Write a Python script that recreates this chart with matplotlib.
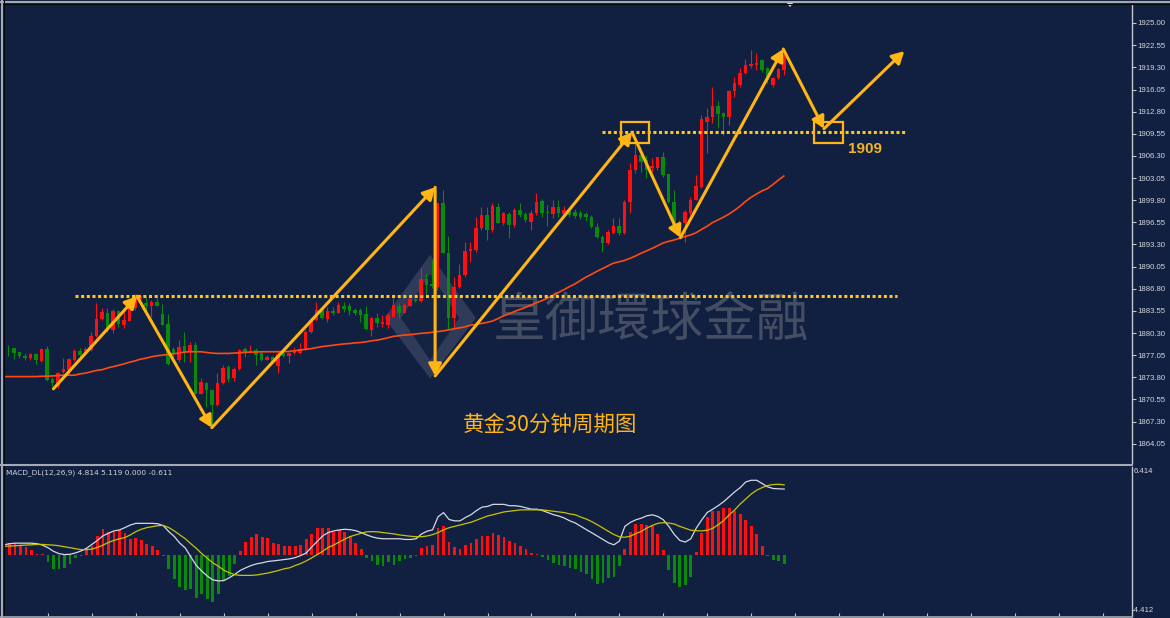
import numpy as np
import matplotlib
matplotlib.use("Agg")
import matplotlib.pyplot as plt
from matplotlib.patches import Rectangle, Polygon
from matplotlib.lines import Line2D

# ============================================================
# 数据 (从图上读取的 30 分钟 K 线, 价格)
# ============================================================
opens = [
    1876.5, 1877.7, 1878.05, 1877.5, 1876.9, 1876.7, 1877.2, 1876.2, 1877.95, 1873.5,
    1872.5, 1874.6, 1874.9, 1876.3, 1877.7, 1877.2, 1877.8, 1879.8, 1882.3, 1883.3,
    1880.7, 1883.5, 1881.5, 1882.1, 1883.9, 1885.1, 1884.7, 1884.2, 1884.8, 1883.1,
    1881.6, 1877.9, 1876.3, 1878.4, 1877.55, 1878.5, 1871.4, 1873.0, 1872.0, 1869.7,
    1872.9, 1875.3, 1873.65, 1875.0, 1877.9, 1877.55, 1877.8, 1877.3, 1876.4, 1876.8,
    1875.5, 1877.3, 1876.9, 1877.3, 1877.3, 1877.9, 1880.5, 1882.2, 1883.7, 1882.3,
    1883.6, 1883.3, 1884.3, 1884.3, 1883.7, 1883.7, 1883.1, 1880.7, 1882.45, 1881.6,
    1881.5, 1882.7, 1884.3, 1883.3, 1884.3, 1885.25, 1885.0, 1888.3, 1887.5, 1887.1,
    1899.35, 1892.1, 1882.45, 1887.1, 1888.8, 1892.4, 1892.5, 1895.7, 1897.6, 1895.4,
    1898.85, 1896.5, 1897.75, 1896.2, 1898.3, 1897.75, 1896.6, 1897.9, 1899.7, 1898.1,
    1897.8, 1898.75, 1897.8, 1898.2, 1898.05, 1897.9, 1897.75, 1897.4, 1895.9, 1894.45,
    1893.55, 1895.0, 1896.0, 1894.95, 1899.6, 1904.2, 1906.4, 1905.7, 1904.5, 1904.5,
    1906.1, 1903.6, 1899.6, 1896.1, 1896.4, 1897.9, 1899.9, 1901.8, 1911.3, 1911.95,
    1913.65, 1912.6, 1912.05, 1915.9, 1916.7, 1918.5, 1919.5, 1919.65, 1920.4, 1919.2,
    1916.7, 1917.7, 1918.9,
]
highs = [
    1878.4, 1878.5, 1878.1, 1877.55, 1877.4, 1877.3, 1877.3, 1878.05, 1878.4, 1873.9,
    1874.6, 1876.6, 1876.7, 1877.95, 1878.05, 1878.3, 1880.5, 1884.7, 1883.9, 1884.0,
    1883.8, 1883.7, 1883.4, 1884.2, 1886.1, 1886.0, 1885.6, 1885.15, 1885.4, 1884.5,
    1883.1, 1878.3, 1879.3, 1880.5, 1879.0, 1879.0, 1873.65, 1873.15, 1872.1, 1874.4,
    1875.6, 1875.6, 1875.35, 1877.9, 1878.2, 1878.5, 1878.1, 1877.55, 1877.1, 1876.9,
    1877.8, 1877.8, 1877.55, 1878.2, 1878.8, 1880.7, 1882.45, 1884.9, 1883.9, 1884.1,
    1884.1, 1884.9, 1884.9, 1884.7, 1883.9, 1883.9, 1884.2, 1882.6, 1883.3, 1882.9,
    1883.2, 1885.4, 1884.7, 1884.7, 1885.4, 1885.4, 1889.9, 1889.1, 1891.0, 1899.4,
    1901.3, 1894.55, 1888.55, 1890.5, 1893.7, 1893.7, 1897.4, 1898.85, 1898.85, 1899.35,
    1899.35, 1898.1, 1898.0, 1898.6, 1899.35, 1898.0, 1898.35, 1900.9, 1900.0, 1899.1,
    1899.8, 1899.8, 1899.0, 1898.8, 1898.5, 1898.3, 1898.1, 1897.6, 1896.45, 1894.7,
    1895.4, 1897.2, 1897.2, 1899.9, 1905.2, 1908.6, 1906.9, 1906.4, 1906.0, 1906.2,
    1906.9, 1903.6, 1901.3, 1896.9, 1898.35, 1900.3, 1903.5, 1912.3, 1913.3, 1916.5,
    1914.4, 1912.8, 1916.0, 1917.85, 1919.2, 1920.6, 1921.85, 1921.4, 1920.6, 1919.4,
    1917.9, 1919.2, 1921.4,
]
lows = [
    1876.2, 1876.9, 1876.5, 1876.6, 1876.3, 1876.3, 1875.7, 1876.1, 1873.3, 1872.5,
    1872.2, 1874.5, 1874.3, 1876.2, 1876.8, 1877.1, 1877.7, 1879.7, 1882.2, 1880.5,
    1880.3, 1881.2, 1881.0, 1882.0, 1883.7, 1884.9, 1883.4, 1882.7, 1884.2, 1881.5,
    1875.6, 1876.3, 1876.1, 1876.1, 1876.1, 1871.4, 1871.3, 1869.5, 1866.65, 1869.6,
    1872.8, 1873.15, 1873.3, 1874.9, 1876.8, 1877.3, 1875.6, 1876.2, 1876.3, 1875.95,
    1874.5, 1876.8, 1875.85, 1877.2, 1877.2, 1877.8, 1880.3, 1882.1, 1882.3, 1881.95,
    1882.9, 1883.2, 1883.4, 1882.9, 1882.9, 1881.95, 1880.7, 1879.8, 1881.2, 1881.2,
    1881.0, 1882.6, 1882.45, 1883.2, 1884.2, 1884.9, 1884.9, 1886.1, 1886.9, 1886.6,
    1892.0, 1880.7, 1881.0, 1886.9, 1888.55, 1890.7, 1892.25, 1895.4, 1893.95, 1895.2,
    1896.4, 1896.2, 1894.2, 1895.9, 1897.4, 1896.65, 1895.4, 1897.6, 1897.3, 1896.0,
    1897.2, 1897.3, 1897.4, 1897.3, 1897.2, 1897.0, 1896.8, 1895.7, 1894.25, 1892.25,
    1893.4, 1894.9, 1894.7, 1894.85, 1897.9, 1903.85, 1904.0, 1903.05, 1903.95, 1904.2,
    1903.25, 1899.35, 1895.65, 1894.7, 1893.7, 1897.6, 1899.8, 1901.55, 1906.7, 1911.1,
    1910.4, 1909.4, 1910.85, 1915.0, 1916.5, 1918.4, 1919.2, 1918.9, 1918.7, 1916.95,
    1916.5, 1917.55, 1918.2,
]
closes = [
    1878.1, 1877.6, 1877.4, 1876.9, 1876.7, 1877.2, 1876.3, 1877.95, 1873.4, 1872.9,
    1874.5, 1875.0, 1876.5, 1877.7, 1877.0, 1877.95, 1879.9, 1882.3, 1883.4, 1880.7,
    1883.5, 1881.6, 1882.2, 1884.0, 1885.4, 1885.7, 1884.2, 1884.8, 1884.3, 1881.5,
    1875.8, 1877.2, 1878.3, 1877.4, 1878.5, 1871.4, 1873.15, 1871.9, 1869.7, 1873.0,
    1875.2, 1873.6, 1875.0, 1877.8, 1877.55, 1877.7, 1877.1, 1876.3, 1876.8, 1876.1,
    1877.2, 1876.9, 1877.4, 1877.7, 1877.9, 1880.5, 1882.2, 1883.7, 1882.45, 1883.5,
    1883.3, 1884.4, 1883.8, 1883.6, 1883.3, 1882.9, 1880.9, 1882.45, 1881.7, 1881.95,
    1882.9, 1884.4, 1883.3, 1884.4, 1885.25, 1885.0, 1888.3, 1887.35, 1887.25, 1899.35,
    1892.1, 1882.45, 1887.1, 1888.8, 1892.4, 1892.6, 1895.7, 1897.6, 1895.4, 1898.95,
    1896.5, 1897.9, 1896.2, 1898.35, 1897.6, 1896.9, 1897.9, 1899.6, 1897.9, 1897.9,
    1898.75, 1897.9, 1898.35, 1897.6, 1897.5, 1897.4, 1897.3, 1895.9, 1894.45, 1893.55,
    1895.2, 1896.0, 1894.95, 1899.6, 1904.2, 1906.4, 1905.45, 1904.2, 1904.8, 1906.1,
    1903.5, 1899.6, 1895.9, 1896.5, 1898.0, 1899.9, 1901.9, 1911.7, 1912.05, 1913.65,
    1912.45, 1912.05, 1915.9, 1916.95, 1918.5, 1919.65, 1919.8, 1920.0, 1918.9, 1917.45,
    1917.7, 1919.0, 1921.1,
]
# 均线
ma_line = [
    1873.9, 1873.9, 1873.9, 1873.9, 1873.9, 1873.9, 1873.9, 1873.95, 1873.95, 1874.0,
    1874.05, 1874.1, 1874.1, 1874.1, 1874.3, 1874.4, 1874.6, 1874.8, 1874.9, 1875.15,
    1875.35, 1875.55, 1875.75, 1876.0, 1876.2, 1876.45, 1876.6, 1876.8, 1876.95, 1877.05,
    1877.15, 1877.25, 1877.35, 1877.5, 1877.55, 1877.55, 1877.55, 1877.45, 1877.35, 1877.3,
    1877.3, 1877.3, 1877.35, 1877.4, 1877.45, 1877.5, 1877.5, 1877.55, 1877.55, 1877.55,
    1877.55, 1877.55, 1877.6, 1877.7, 1877.8, 1877.9, 1878.0, 1878.15, 1878.3, 1878.4,
    1878.5, 1878.6, 1878.7, 1878.75, 1878.85, 1878.9, 1879.0, 1879.15, 1879.25, 1879.4,
    1879.6, 1879.8, 1879.9, 1880.0, 1880.05, 1880.15, 1880.25, 1880.3, 1880.4, 1880.5,
    1880.6, 1880.75, 1880.9, 1881.05, 1881.2, 1881.45, 1881.55, 1881.7, 1881.85, 1882.05,
    1882.4, 1882.8, 1883.1, 1883.45, 1883.75, 1884.05, 1884.4, 1884.75, 1885.05, 1885.4,
    1885.85, 1886.25, 1886.65, 1887.1, 1887.5, 1888.0, 1888.5, 1888.9, 1889.35, 1889.75,
    1890.15, 1890.55, 1890.75, 1890.95, 1891.25, 1891.6, 1892.0, 1892.35, 1892.7, 1893.1,
    1893.5, 1893.75, 1893.95, 1894.2, 1894.45, 1894.7, 1895.0, 1895.5, 1895.95, 1896.5,
    1896.9, 1897.3, 1897.75, 1898.3, 1898.9, 1899.6, 1900.2, 1900.7, 1901.15, 1901.5,
    1902.1, 1902.75, 1903.35,
]
# MACD_DL(12,26,9)
macd_hist = [
    0.80, 0.88, 0.88, 0.72, 0.60, 0.41, 0.12, 0.12, -0.50, -0.98,
    -1.03, -0.91, -0.62, -0.19, -0.07, 0.36, 0.69, 1.41, 1.89, 1.72,
    1.72, 1.84, 1.65, 1.20, 1.29, 1.08, 0.84, 0.65, 0.41, -0.03,
    -1.03, -1.74, -2.27, -2.53, -2.46, -3.13, -2.82, -3.18, -3.42, -2.82,
    -1.86, -1.51, -0.67, 0.29, 0.93, 1.36, 1.55, 1.31, 1.24, 0.88,
    0.84, 0.69, 0.69, 0.69, 0.76, 1.17, 1.55, 2.01, 2.01, 1.96,
    1.72, 1.84, 1.67, 1.41, 0.88, 0.45, -0.19, -0.43, -0.74, -0.79,
    -0.50, -0.74, -0.38, -0.30, -0.20, -0.05, 0.55, 0.70, 0.75, 2.00,
    2.10, 1.00, 0.60, 0.45, 0.75, 0.90, 1.20, 1.40, 1.40, 1.60,
    1.45, 1.30, 1.05, 0.90, 0.70, 0.45, 0.20, 0.10, -0.15, -0.35,
    -0.55, -0.70, -0.80, -0.90, -1.00, -1.20, -1.36, -1.72, -2.08, -2.01,
    -1.67, -1.60, -0.76, 0.48, 1.67, 2.29, 2.29, 2.22, 2.10, 1.51,
    0.36, -1.05, -2.01, -2.32, -2.15, -1.60, 0.24, 1.63, 2.77, 3.25,
    3.25, 3.47, 3.42, 3.25, 3.01, 2.58, 2.15, 1.58, 0.67, -0.03,
    -0.36, -0.41, -0.61,
]
macd_main = [
    0.76, 0.84, 0.88, 0.88, 0.88, 0.88, 0.84, 0.74, 0.55, 0.29,
    0.12, 0.05, 0.07, 0.17, 0.31, 0.50, 0.79, 1.08, 1.41, 1.60,
    1.77, 1.84, 2.01, 2.20, 2.32, 2.32, 2.32, 2.32, 2.29, 2.15,
    1.72, 1.36, 0.88, 0.53, -0.12, -0.74, -1.15, -1.51, -1.79, -1.86,
    -1.84, -1.63, -1.39, -1.10, -0.91, -0.74, -0.62, -0.55, -0.45, -0.41,
    -0.36, -0.31, -0.26, -0.17, -0.02, 0.17, 0.60, 1.00, 1.41, 1.65,
    1.77, 1.84, 1.89, 1.86, 1.79, 1.65, 1.48, 1.34, 1.24, 1.20,
    1.20, 1.20, 1.20, 1.15, 1.15, 1.20, 1.55, 1.75, 1.85, 2.80,
    3.10, 2.60, 2.50, 2.50, 2.75, 2.95, 3.25, 3.50, 3.55, 3.70,
    3.70, 3.70, 3.60, 3.60, 3.55, 3.45, 3.35, 3.35, 3.25, 3.10,
    2.95, 2.85, 2.70, 2.50, 2.34, 2.10, 1.86, 1.63, 1.39, 1.15,
    0.91, 0.76, 1.03, 2.10, 2.39, 2.58, 2.70, 2.87, 2.94, 2.82,
    2.58, 2.10, 1.51, 1.08, 0.96, 1.20, 1.98, 2.58, 3.11, 3.35,
    3.61, 3.90, 4.25, 4.61, 4.92, 5.33, 5.45, 5.45, 5.21, 4.97,
    4.85, 4.83, 4.81,
]
macd_signal = [
    0.65, 0.67, 0.69, 0.72, 0.74, 0.76, 0.79, 0.79, 0.76, 0.74,
    0.69, 0.62, 0.55, 0.48, 0.41, 0.41, 0.45, 0.57, 0.74, 0.93,
    1.08, 1.20, 1.29, 1.48, 1.72, 1.89, 2.01, 2.08, 2.15, 2.17,
    2.01, 1.77, 1.48, 1.20, 0.84, 0.50, 0.12, -0.22, -0.55, -0.79,
    -1.08, -1.27, -1.41, -1.46, -1.46, -1.46, -1.43, -1.36, -1.29, -1.20,
    -1.10, -0.98, -0.91, -0.74, -0.60, -0.41, -0.19, 0.05, 0.29, 0.57,
    0.74, 0.96, 1.17, 1.36, 1.48, 1.60, 1.70, 1.72, 1.70, 1.65,
    1.60, 1.55, 1.48, 1.43, 1.38, 1.35, 1.35, 1.40, 1.50, 1.65,
    1.85, 2.00, 2.10, 2.20, 2.30, 2.40, 2.55, 2.70, 2.85, 2.95,
    3.05, 3.15, 3.20, 3.25, 3.30, 3.30, 3.30, 3.30, 3.30, 3.25,
    3.20, 3.15, 3.10, 3.00, 2.94, 2.77, 2.63, 2.44, 2.22, 1.98,
    1.74, 1.51, 1.34, 1.31, 1.39, 1.58, 1.74, 1.98, 2.17, 2.32,
    2.37, 2.34, 2.27, 2.10, 1.96, 1.82, 1.79, 1.77, 1.82, 1.96,
    2.22, 2.53, 2.94, 3.30, 3.73, 4.09, 4.45, 4.73, 4.92, 5.07,
    5.14, 5.16, 5.12,
]
price_ticks = [1922.55, 1919.30, 1916.05, 1912.80, 1909.55, 1906.30, 1903.05, 1899.80,
               1896.55, 1893.30, 1890.05, 1886.80, 1883.55, 1880.30, 1877.05, 1873.80,
               1870.55, 1867.30, 1864.05]
top_label = "1925.00"
macd_label = "MACD_DL(12,26,9) 4.814 5.119 0.000 -0.611"
macd_range = (-4.412, 6.414)

# 画线标注 (K 线序号, 价格)
zigzag_x = [9.2, 24.4, 38.0, 78.6, 78.6, 114.4, 123.2, 141.9, 149.3, 163.9]
zigzag_y = [1872.1, 1885.7, 1866.4, 1901.7, 1874.0, 1909.8, 1894.3, 1922.0, 1910.3, 1921.7]
level_low, level_low_span = 1885.75, (13.1, 162.6)
level_high, level_high_span = 1909.8, (109.0, 164.0)
boxes = [(112.4, 117.5), (147.5, 152.8)]
box_prices = (1908.25, 1911.33)

# ============================================================
# 画图
# ============================================================
BG = '#111f40'
UP, DOWN = '#ff1010', '#0a8a0a'
GOLD = '#ffb514'
DOT = '#ffc61a'
NARROW = ['Liberation Sans Narrow', 'Liberation Sans', 'DejaVu Sans']
W, H = 1170, 618

fig = plt.figure(figsize=(W / 100, H / 100), dpi=100)
fig.patch.set_facecolor(BG)


def px_axes(left, top, right, bottom):
    return fig.add_axes([left / W, 1 - bottom / H, (right - left) / W, (bottom - top) / H])


ax = px_axes(4, 5, 1132, 463)
axm = px_axes(4, 467, 1132, 616)
XLIM = (0.22, 205.3)

for a in (ax, axm):
    a.set_facecolor(BG)
    a.set_xlim(*XLIM)
    for side in ('top', 'left', 'bottom'):
        a.spines[side].set_visible(False)
    a.spines['right'].set_color('#c4c8cc')
    a.spines['right'].set_linewidth(1.0)
    a.yaxis.tick_right()
    a.tick_params(axis='y', direction='out', length=3, width=0.8, color='#c4c8cc',
                  labelsize=5.6, labelcolor='#d4d6da', pad=1)

# --- K 线 ---
idx = np.arange(len(closes))
o, h, l, c = map(np.array, (opens, highs, lows, closes))
up = c >= o
cols = np.where(up, UP, DOWN)
ax.vlines(idx, l, h, colors=cols, lw=0.8, zorder=3)
body_lo = np.minimum(o, c)
body_h = np.maximum(np.abs(c - o), 0.12)
ax.bar(idx, body_h, bottom=body_lo, width=0.64, color=cols, lw=0, zorder=4)
ax.plot(idx, ma_line, color='#ff4a12', lw=1.2, zorder=5)

ax.set_ylim(1861.21, 1928.47)
ax.set_yticks(price_ticks + [1925.85])
ax.set_yticklabels(['%.2f' % v for v in price_ticks] + [top_label], family=NARROW)
ax.set_xticks([])

# --- 水印 (logo + 文字) ---
ax.text(117.8, 1882.2, '皇御環球金融', family=['Noto Sans CJK TC', 'DejaVu Sans'],
        fontsize=38, color='#565d6e', alpha=0.75, ha='center', va='center', zorder=1)
logo_outer = [(77.7, 1891.8), (86.0, 1882.5), (77.7, 1873.6), (69.4, 1882.5)]
logo_inner = [(77.7, 1889.0), (83.0, 1882.5), (77.7, 1876.3), (72.4, 1882.5)]
ax.add_patch(Polygon(logo_outer, closed=True, fc='#9aa0b0', ec='none', alpha=0.22, zorder=1))
ax.add_patch(Polygon(logo_inner, closed=True, fc=BG, ec='none', alpha=0.85, zorder=1))

# --- 标注 ---
ax.hlines(level_low, *level_low_span, colors=DOT, lw=2.2, linestyles=(0, (1, 0.85)), zorder=6)
ax.hlines(level_high, *level_high_span, colors=DOT, lw=2.2, linestyles=(0, (1, 0.85)), zorder=6)
for x0, x1 in boxes:
    ax.add_patch(Rectangle((x0, box_prices[0]), x1 - x0, box_prices[1] - box_prices[0],
                           fill=False, ec=GOLD, lw=1.6, zorder=7))
for k in range(len(zigzag_x) - 1):
    ax.annotate('', xy=(zigzag_x[k + 1], zigzag_y[k + 1]), xytext=(zigzag_x[k], zigzag_y[k]),
                arrowprops=dict(arrowstyle='-|>,head_length=0.55,head_width=0.3', color=GOLD,
                                lw=2.2, shrinkA=0, shrinkB=0, mutation_scale=13), zorder=8)
ax.text(153.7, 1907.3, '1909', fontsize=11, fontweight='bold', color='#f0b428',
        family=['Liberation Sans', 'DejaVu Sans'], ha='left', va='center', zorder=8)
ax.text(99.5, 1866.8, '黄金30分钟周期图', family=['Noto Sans CJK SC', 'DejaVu Sans'],
        fontsize=15.5, color='#ffb514', ha='center', va='center', zorder=8)

# --- MACD ---
mh = np.array(macd_hist)
axm.bar(idx, mh, width=0.5, color=np.where(mh >= 0, UP, DOWN), lw=0, zorder=3)
axm.plot(idx, macd_main, color='#d6d8e4', lw=0.9, zorder=4)
axm.plot(idx, macd_signal, color='#c8c400', lw=0.9, zorder=4)
axm.set_ylim(*macd_range)
axm.set_yticks([])
axm.set_xticks(np.arange(0, 206, 8))
axm.tick_params(axis='x', direction='in', length=2, color='#c4c8cc', labelbottom=False)
axm.text(0.002, 0.985, macd_label, transform=axm.transAxes, fontsize=5.3,
         color='#d4d6da', ha='left', va='top')
fig.text(1134 / W, 1 - 468 / H, '%.3f' % macd_range[1], fontsize=5.6, color='#d4d6da',
         ha='left', va='top', family=NARROW)
fig.text(1132 / W, 1 - 614 / H, '%.3f' % macd_range[0], fontsize=5.6, color='#d4d6da',
         ha='left', va='bottom', family=NARROW)

# --- 窗口边框 ---
frame = '#a4aab4'
fig.add_artist(Line2D([0, 1], [1 - 1.5 / H] * 2, color=frame, lw=1.5, transform=fig.transFigure))
fig.add_artist(Line2D([0, 1], [1 - 3.5 / H] * 2, color='#05080f', lw=0.8, transform=fig.transFigure))
fig.add_artist(Line2D([1.5 / W] * 2, [0, 1], color=frame, lw=1.5, transform=fig.transFigure))
fig.add_artist(Line2D([3.5 / W] * 2, [0, 1], color='#05080f', lw=0.8, transform=fig.transFigure))
fig.add_artist(Line2D([0, 1132 / W], [1 - 464.5 / H] * 2, color=frame, lw=1.5, transform=fig.transFigure))
fig.add_artist(Line2D([0, 1132 / W], [1 - 616.5 / H] * 2, color=frame, lw=1.2, transform=fig.transFigure))
fig.add_artist(Polygon([(786 / W, 1 - 2 / H), (794 / W, 1 - 2 / H), (790 / W, 1 - 7 / H)],
                       closed=True, fc='#e8e8e8', ec='none', transform=fig.transFigure))

fig.savefig('out.png', dpi=100, facecolor=BG)
